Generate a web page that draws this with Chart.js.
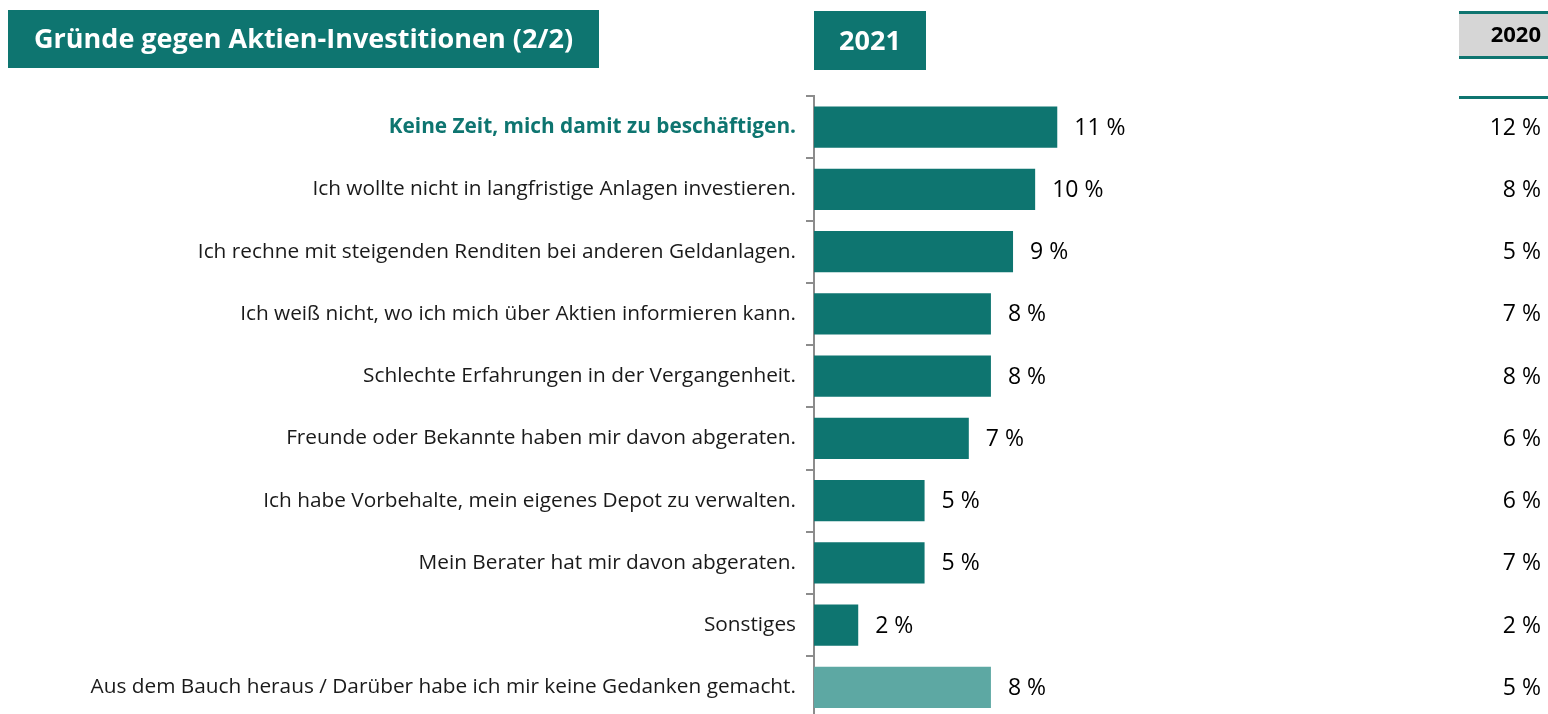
<!DOCTYPE html>
<html><head><meta charset="utf-8">
<script src="https://cdn.jsdelivr.net/npm/chart.js@4"></script>
<style>html,body{margin:0;padding:0;background:#fff;overflow:hidden;}#wrap{width:1548px;height:714px;position:relative;overflow:hidden;}</style>
</head><body><div id="wrap"><canvas id="c" width="1548" height="741"></canvas></div>
<script>
const categories = [
  "Keine Zeit, mich damit zu beschäftigen.",
  "Ich wollte nicht in langfristige Anlagen investieren.",
  "Ich rechne mit steigenden Renditen bei anderen Geldanlagen.",
  "Ich weiß nicht, wo ich mich über Aktien informieren kann.",
  "Schlechte Erfahrungen in der Vergangenheit.",
  "Freunde oder Bekannte haben mir davon abgeraten.",
  "Ich habe Vorbehalte, mein eigenes Depot zu verwalten.",
  "Mein Berater hat mir davon abgeraten.",
  "Sonstiges",
  "Aus dem Bauch heraus / Darüber habe ich mir keine Gedanken gemacht."
];
const values2021 = [11, 10, 9, 8, 8, 7, 5, 5, 2, 8];
const values2020 = [12, 8, 5, 7, 8, 6, 6, 7, 2, 5];
const titleText = "Gründe gegen Aktien-Investitionen (2/2)";
const header2021 = "2021";
const header2020 = "2020";

const TEAL = "#0E7570";
const LIGHT = "#5DA8A3";
const FONT = "'Open Sans', sans-serif";

const decor = {
  id: "decor",
  afterDraw(chart) {
    const ctx = chart.ctx;
    ctx.save();
    ctx.fillStyle = TEAL;
    ctx.fillRect(8, 10, 591, 58);
    ctx.fillStyle = "#fff";
    ctx.font = "bold 27px " + FONT;
    ctx.textBaseline = "middle";
    ctx.textAlign = "left";
    ctx.fillText(titleText, 34, 40);
    ctx.fillStyle = TEAL;
    ctx.fillRect(814, 11, 112, 59);
    ctx.fillStyle = "#fff";
    ctx.textAlign = "center";
    ctx.font = "bold 27px " + FONT;
    ctx.fillText(header2021, 870, 42);
    ctx.fillStyle = "#D6D6D6";
    ctx.fillRect(1459, 12, 89, 46);
    ctx.fillStyle = TEAL;
    ctx.fillRect(1459, 11, 89, 3);
    ctx.fillRect(1459, 56, 89, 3);
    ctx.fillRect(1459, 96, 89, 3);
    ctx.fillStyle = "#000";
    ctx.font = "bold 22px " + FONT;
    ctx.textAlign = "right";
    ctx.fillText(header2020, 1541, 36);
    const meta = chart.getDatasetMeta(0);
    ctx.font = "23px " + FONT;
    ctx.fillStyle = "#000";
    meta.data.forEach((bar, i) => {
      ctx.textAlign = "left";
      ctx.fillText(values2021[i] + " %", bar.x + 17, bar.y + 1);
      ctx.textAlign = "right";
      ctx.fillText(values2020[i] + " %", 1541, bar.y + 1);
    });
    ctx.restore();
  }
};

new Chart(document.getElementById("c"), {
  type: "bar",
  data: {
    labels: categories,
    datasets: [{
      data: values2021,
      backgroundColor: values2021.map((v, i) => i === values2021.length - 1 ? LIGHT : TEAL),
      borderWidth: 0,
      barPercentage: 0.66,
      categoryPercentage: 1
    }]
  },
  options: {
    indexAxis: "y",
    responsive: false,
    animation: false,
    devicePixelRatio: 1,
    layout: { padding: { top: 96, bottom: 1, left: 0, right: 159 } },
    plugins: { legend: { display: false }, tooltip: { enabled: false } },
    scales: {
      x: { display: false, min: 0, max: 26 },
      y: {
        offset: true,
        afterFit(s) { s.width = 814; },
        border: { display: true, color: "#8c8c8c", width: 2 },
        grid: { drawOnChartArea: false, drawTicks: true, tickLength: 8, color: "#8c8c8c", lineWidth: 2, offset: true },
        ticks: {
          padding: 10,
          color: (c) => c.index === 0 ? TEAL : "#1a1a1a",
          font: (c) => ({ family: FONT, size: 20.8, weight: c.index === 0 ? "bold" : "normal" })
        }
      }
    }
  },
  plugins: [decor]
});
</script>
</body></html>
